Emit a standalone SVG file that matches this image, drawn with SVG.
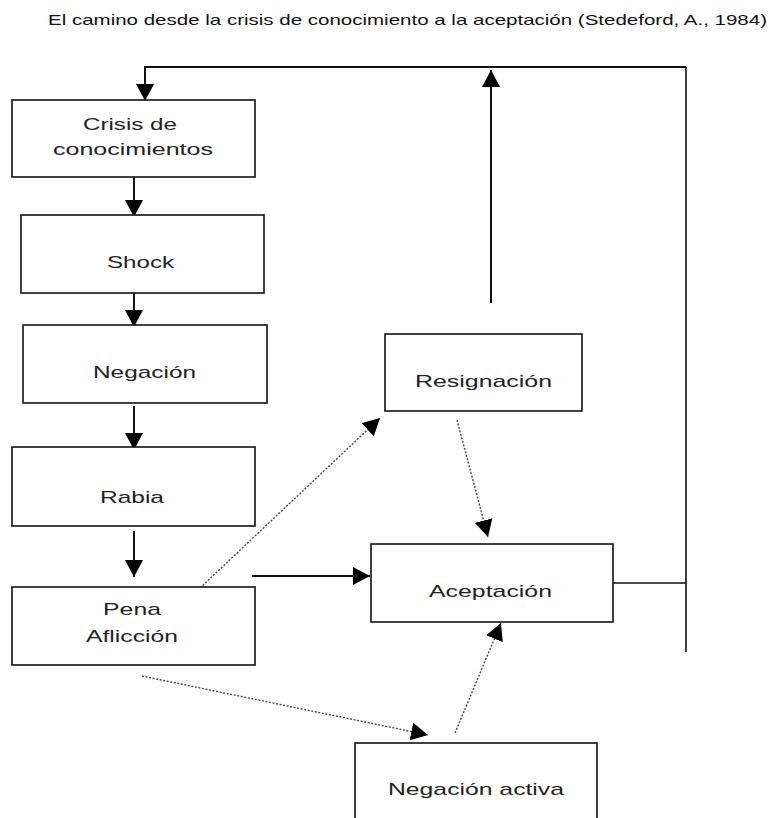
<svg xmlns="http://www.w3.org/2000/svg" width="772" height="818" viewBox="0 0 772 818">
<style>
.box{fill:#fff;stroke:#111;stroke-width:1.6}
.lbl{font-family:"Liberation Sans",Arial,sans-serif;font-size:17px;fill:#222}
.title{font-family:"Liberation Sans",Arial,sans-serif;font-size:14.5px;fill:#111}
.solid{fill:none;stroke:#111;stroke-width:2}
.thin{fill:none;stroke:#111;stroke-width:1.6}
.dot{fill:none;stroke:#444;stroke-width:1.4;stroke-dasharray:2 1.6}
</style>
<defs>
<marker id="ah" markerUnits="userSpaceOnUse" markerWidth="17" markerHeight="18" refX="17" refY="9" orient="auto" viewBox="0 0 17 18">
<path d="M0,0 L17,9 L0,18 Z" fill="#000"/>
</marker>
</defs>
<rect width="772" height="818" fill="#fff"/>
<text class="title" x="48" y="25" textLength="719" lengthAdjust="spacingAndGlyphs">El camino desde la crisis de conocimiento a la aceptación (Stedeford, A., 1984)</text>
<g id="connectors">
<path class="solid" d="M686,67 L145,67 L145,101" marker-end="url(#ah)"/>
<path class="solid" d="M491,303 L491,70" marker-end="url(#ah)"/>
<path class="thin" d="M686,67 L686,652"/>
<path class="thin" d="M612,583 L686,583"/>
<path class="solid" d="M134,177 L134,217" marker-end="url(#ah)"/>
<path class="solid" d="M134,293 L134,327" marker-end="url(#ah)"/>
<path class="solid" d="M134,406 L134,450" marker-end="url(#ah)"/>
<path class="solid" d="M134,531 L134,577" marker-end="url(#ah)"/>
<path class="solid" d="M252,576 L370,576" marker-end="url(#ah)"/>
<path class="dot" d="M200,588 L380,418" marker-end="url(#ah)"/>
<path class="dot" d="M457,420 L488,537" marker-end="url(#ah)"/>
<path class="dot" d="M142,676 L428,735" marker-end="url(#ah)"/>
<path class="dot" d="M455,733 L501,623" marker-end="url(#ah)"/>
</g>
<g id="crisis">
<rect class="box" x="12" y="100" width="243" height="77"/>
<text class="lbl" x="83" y="130" textLength="94" lengthAdjust="spacingAndGlyphs">Crisis de</text>
<text class="lbl" x="53" y="155" textLength="160" lengthAdjust="spacingAndGlyphs">conocimientos</text>
</g>
<g id="shock">
<rect class="box" x="21" y="215" width="243" height="78"/>
<text class="lbl" x="107" y="268" textLength="67" lengthAdjust="spacingAndGlyphs">Shock</text>
</g>
<g id="negacion">
<rect class="box" x="23" y="325" width="244" height="78"/>
<text class="lbl" x="93" y="378" textLength="103" lengthAdjust="spacingAndGlyphs">Negación</text>
</g>
<g id="rabia">
<rect class="box" x="12" y="447" width="243" height="79"/>
<text class="lbl" x="100" y="503" textLength="64" lengthAdjust="spacingAndGlyphs">Rabia</text>
</g>
<g id="pena">
<rect class="box" x="12" y="587" width="243" height="78"/>
<text class="lbl" x="103" y="615" textLength="58" lengthAdjust="spacingAndGlyphs">Pena</text>
<text class="lbl" x="86" y="642" textLength="92" lengthAdjust="spacingAndGlyphs">Aflicción</text>
</g>
<g id="resignacion">
<rect class="box" x="385" y="334" width="197" height="77"/>
<text class="lbl" x="415" y="387" textLength="137" lengthAdjust="spacingAndGlyphs">Resignación</text>
</g>
<g id="aceptacion">
<rect class="box" x="371" y="544" width="242" height="78"/>
<text class="lbl" x="429" y="597" textLength="123" lengthAdjust="spacingAndGlyphs">Aceptación</text>
</g>
<g id="negacion-activa">
<rect class="box" x="355" y="743" width="242" height="90"/>
<text class="lbl" x="388" y="795" textLength="176" lengthAdjust="spacingAndGlyphs">Negación activa</text>
</g>
</svg>
